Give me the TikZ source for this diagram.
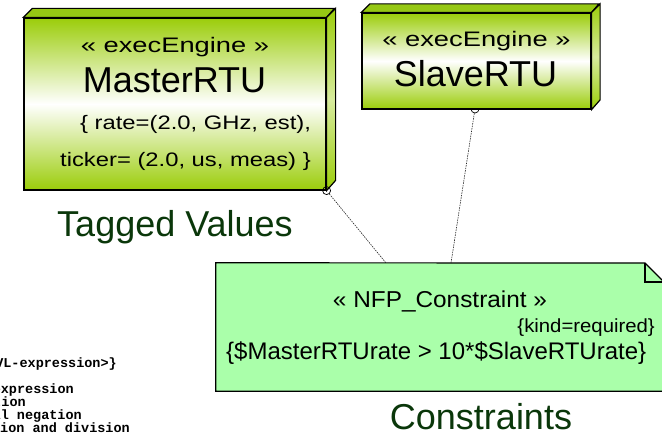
\documentclass[tikz,border=0pt]{standalone}
\usepackage{fontspec}
\setmainfont{Liberation Sans}
\newfontfamily\monofont{Liberation Mono}
\usepackage{graphicx}
\definecolor{boxgreen}{RGB}{155,205,10}
\definecolor{topgreen}{RGB}{150,200,20}
\definecolor{notegreen}{RGB}{170,255,170}
\definecolor{labelgreen}{RGB}{10,55,10}
\newcommand{\fsz}[1]{\fontsize{#1}{#1}\selectfont}
\newcommand{\hsc}[2]{\scalebox{#1}[1]{#2}}
\begin{document}
\begin{tikzpicture}[x=1pt,y=-1pt,
  face/.style={draw=black, line width=1.2pt, line join=miter},
  front/.style={face, rectangle, inner sep=0pt, top color=boxgreen, bottom color=boxgreen, middle color=white},
  txt/.style={inner sep=0pt, anchor=base},
  lbl/.style={inner sep=0pt, anchor=base, text=labelgreen},
  mono/.style={inner sep=0pt, anchor=base east, font=\monofont\bfseries\fsz{13.5}},
  conn/.style={draw=black!85, line width=0.6pt, dash pattern=on 1.5pt off 1pt},
  port/.style={circle, draw=black, line width=0.7pt, minimum size=8pt, inner sep=0pt}
]
\useasboundingbox (0,0) rectangle (662,435);

% ---- Slave port (behind box)
\node[port, fill=white] (scirc) at (475,109) {};

% ---- MasterRTU
\node[front, minimum width=302pt, minimum height=172pt] (master) at (175,104) {};
\draw[face, fill=topgreen] (master.north west) -- ++(9,-9) -- ++(302,0) -- (master.north east) -- cycle;
\draw[face, top color=boxgreen, bottom color=boxgreen, middle color=white!60!boxgreen]
  (master.north east) -- ++(9,-9) -- ++(0,172) -- (master.south east) -- cycle;
\node[txt] (m1) at (175,53) {\fsz{21}\hsc{1.3}{« execEngine »}};
\node[txt] (m2) at (174.5,93) {\fsz{36}MasterRTU};
\node[txt, anchor=base west] (m3) at (80,130) {\fsz{19.5}\hsc{1.22}{\{ rate=(2.0, GHz, est),}};
\node[txt, anchor=base west] (m4) at (60,167) {\fsz{19.5}\hsc{1.22}{ticker= (2.0, us, meas) \}}};
\node[port] (mcirc) at (master.south east) {};

% ---- SlaveRTU
\node[front, minimum width=229pt, minimum height=96pt] (slave) at (476.5,61) {};
\draw[face, fill=topgreen] (slave.north west) -- ++(8.5,-8.5) -- ++(229,0) -- (slave.north east) -- cycle;
\draw[face, top color=boxgreen, bottom color=boxgreen, middle color=white!60!boxgreen]
  (slave.north east) -- ++(8.5,-8.5) -- ++(0,96) -- (slave.south east) -- cycle;
\node[txt] (s1) at (476.5,47) {\fsz{21}\hsc{1.3}{« execEngine »}};
\node[txt] (s2) at (475.5,87) {\fsz{36}SlaveRTU};

% ---- Note
\node[minimum width=448pt, minimum height=128pt, inner sep=0pt] (note) at (440,327) {};
\draw[face, fill=notegreen] (note.north west) -- (645,263) -- (664,282) -- (note.south east) -- (note.south west) -- cycle;
\draw[face] (645,263) -- (645,282) -- (664,282);
\node[txt] (n1) at (440,308) {\fsz{23}\hsc{1.06}{« NFP\_Constraint »}};
\node[txt, anchor=base east] (n2) at (655,333) {\fsz{19}\hsc{1.07}{\{kind=required\}}};
\node[txt, anchor=base west] (n3) at (226,360) {\fsz{24}\{\$MasterRTUrate > 10*\$SlaveRTUrate\}};

% ---- Connectors
\coordinate (nA) at (386,263);
\coordinate (nB) at (451,263);
\draw[conn] (mcirc) -- (nA);
\draw[conn] (scirc) -- (nB);

% ---- Labels
\node[lbl, anchor=base west] (tv) at (57,237) {\fsz{36}Tagged Values};
\node[lbl] (cs) at (481,430) {\fsz{36}Constraints};

% ---- Cut-off code text
\begin{scope}
\clip (0,340) rectangle (200,435);
\node[mono] (c1) at (117,368) {VL-expression>\}};
\node[mono] (c2) at (74,394) {expression};
\node[mono] (c3) at (26,407) {tion};
\node[mono] (c4) at (82,420) {al negation};
\node[mono] (c5) at (130,433) {tion and division};
\end{scope}
\end{tikzpicture}
\end{document}
